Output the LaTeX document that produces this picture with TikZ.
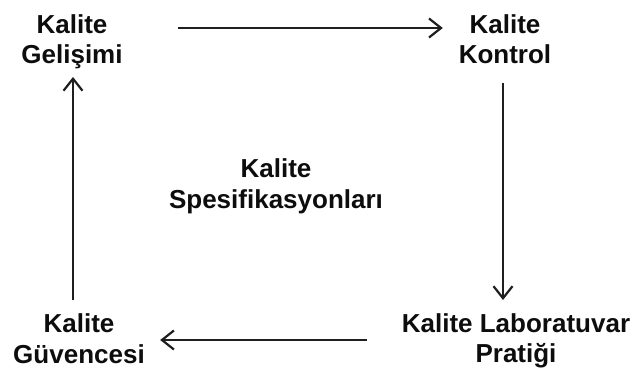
\documentclass[tikz,border=0pt]{standalone}
\usepackage{fontspec}
\setmainfont{Liberation Sans}
\usetikzlibrary{arrows.meta}
\begin{document}
\begin{tikzpicture}[x=1pt,y=1pt,
  lbl/.style={inner sep=0pt, align=center, text=black!95,
    font=\fontsize{26}{30.5}\selectfont\bfseries},
  arr/.style={line width=2.2pt, draw=black!88,
    -{Straight Barb[length=12pt,width=19pt,line width=2.2pt]}}]
\useasboundingbox (0,0) rectangle (634,372);
\fill[white] (0,0) rectangle (634,372);
\node[lbl] (gel) at (72,330.1) {Kalite\\Gelişimi};
\node[lbl] (kon) at (505,332.6) {Kalite\\Kontrol};
\node[lbl] (guv) at (79,33.1) {Kalite\\Güvencesi};
\node[lbl] (lab) at (516,31.1) {Kalite Laboratuvar\\Pratiği};
\node[lbl] (spe) at (276,185.6) {Kalite\\Spesifikasyonları};
\draw[arr] ([xshift=55.5pt,yshift=13.9pt]gel.east) -- ([xshift=-15.8pt,yshift=11.4pt]kon.west);
\draw[arr] ([xshift=-2pt,yshift=-18.6pt]kon.south) -- ([xshift=-13pt,yshift=13.3pt]lab.north);
\draw[arr] ([xshift=-35pt,yshift=0.9pt]lab.west) -- ([xshift=15.2pt,yshift=-1.1pt]guv.east);
\draw[arr] ([xshift=-6pt,yshift=14.3pt]guv.north) -- ([xshift=1pt,yshift=-7.5pt]gel.south);
\end{tikzpicture}
\end{document}
